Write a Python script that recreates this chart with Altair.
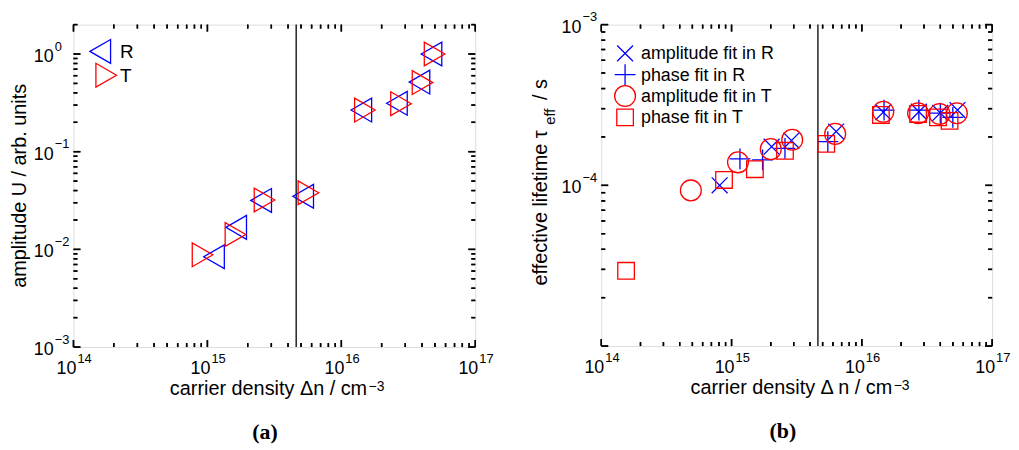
import altair as alt
import pandas as pd

FONT = "Liberation Sans"
SERIF = "Liberation Serif"

# ---------------- panel (a): amplitude vs carrier density ----------------
r_density = [1.12e15, 1.64e15, 2.52e15, 5.19e15, 1.41e16, 2.60e16, 3.83e16, 4.71e16]
r_amplitude = [8.4e-3, 1.68e-2, 3.17e-2, 3.5e-2, 0.267, 0.313, 0.516, 1.0]
t_density = [9.2e14, 1.62e15, 2.67e15, 5.68e15, 1.50e16, 2.79e16, 4.04e16, 4.97e16]
t_amplitude = [8.8e-3, 1.42e-2, 3.2e-2, 3.8e-2, 0.267, 0.310, 0.510, 1.0]
a_series = ["R", "T"]

# ---------------- panel (b): effective lifetime ----------------
amp_r_density = [8.1e14, 2.03e15, 2.88e15, 6.35e15, 1.46e16, 2.74e16, 4.0e16, 5.42e16]
amp_r_tau = [1.0e-4, 1.74e-4, 1.90e-4, 2.16e-4, 2.85e-4, 2.87e-4, 2.82e-4, 2.94e-4]
ph_r_density = [1.16e15, 1.73e15, 2.57e15, 5.48e15, 1.48e16, 2.74e16, 4.0e16, 4.99e16]
ph_r_tau = [1.46e-4, 1.44e-4, 1.70e-4, 1.87e-4, 2.94e-4, 2.94e-4, 2.81e-4, 2.65e-4]
amp_t_density = [4.87e14, 1.12e15, 2.0e15, 2.92e15, 6.24e15, 1.46e16, 2.70e16, 3.95e16, 5.36e16]
amp_t_tau = [9.3e-5, 1.39e-4, 1.68e-4, 1.92e-4, 2.09e-4, 2.87e-4, 2.81e-4, 2.78e-4, 2.81e-4]
ph_t_density = [1.55e14, 8.75e14, 1.51e15, 2.57e15, 5.33e15, 1.40e16, 2.70e16, 3.84e16, 4.71e16]
ph_t_tau = [2.94e-5, 1.08e-4, 1.26e-4, 1.64e-4, 1.81e-4, 2.74e-4, 2.78e-4, 2.65e-4, 2.52e-4]
b_series = ["amplitude fit in R", "phase fit in R", "amplitude fit in T", "phase fit in T"]

boundary_density = [4.6e15]

# tick labels
x_tick_values = [1e14, 1e15, 1e16, 1e17]
x_tick_exponents = ["14", "15", "16", "17"]
a_y_tick_values = [1e-3, 1e-2, 1e-1, 1e0]
a_y_tick_exponents = ["\u22123", "\u22122", "\u22121", "0"]
b_y_tick_values = [1e-4, 1e-3]
b_y_tick_exponents = ["\u22124", "\u22123"]

x_domain = [1e14, 1e17]
a_y_domain = [1e-3, 2]
b_y_domain = [1e-5, 1e-3]

BLUE = "#0000ff"
RED = "#ff0000"
X_PATH = "M-1,-1L1,1M1,-1L-1,1"
PLUS_PATH = "M-1,0L1,0M0,-1L0,1"

WA, HA = 405, 325
WB, HB = 394, 324
MAJOR_LEN, MINOR_LEN = 7, 4
TICK_W = 1.5


def ticks_between(lo_exp, hi_exp, top=None):
    major, minor = [], []
    for e in range(lo_exp, hi_exp):
        major.append(10.0 ** e)
        for k in range(2, 10):
            minor.append(k * 10.0 ** e)
    major.append(10.0 ** hi_exp)
    if top is not None:
        minor = [v for v in minor if v <= top * 1.0001] + [top]
    return major, minor


def tick_marks(xscale, yscale, xticks, yticks, W, H):
    """Inward ticks on all four sides of the box (rules, doubled by tick marks)."""
    layers = []
    for vals, L in ((xticks[0], MAJOR_LEN), (xticks[1], MINOR_LEN)):
        df = pd.DataFrame({"v": vals})
        xe = alt.X("v:Q", scale=xscale, axis=None)
        rule = alt.Chart(df).mark_rule(color="black", strokeWidth=TICK_W)
        layers.append(rule.encode(x=xe, y=alt.value(H), y2=alt.value(H - L)))
        layers.append(rule.encode(x=xe, y=alt.value(0), y2=alt.value(L)))
        tick = alt.Chart(df).mark_tick(color="black", opacity=1, thickness=TICK_W, size=L)
        layers.append(tick.encode(x=xe, y=alt.value(H - L / 2)))
        layers.append(tick.encode(x=xe, y=alt.value(L / 2)))
    for vals, L in ((yticks[0], MAJOR_LEN), (yticks[1], MINOR_LEN)):
        df = pd.DataFrame({"v": vals})
        ye = alt.Y("v:Q", scale=yscale, axis=None)
        rule = alt.Chart(df).mark_rule(color="black", strokeWidth=TICK_W)
        layers.append(rule.encode(y=ye, x=alt.value(0), x2=alt.value(L)))
        layers.append(rule.encode(y=ye, x=alt.value(W), x2=alt.value(W - L)))
        tick = alt.Chart(df).mark_tick(color="black", opacity=1, thickness=TICK_W, size=L)
        layers.append(tick.encode(y=ye, x=alt.value(L / 2)))
        layers.append(tick.encode(y=ye, x=alt.value(W - L / 2)))
    return layers


def label_layers(xscale, yscale, yvals, yexps, W, H, x_title, dn_offset, panel_label, label_dx):
    dfx = pd.DataFrame({"v": x_tick_values, "e": x_tick_exponents})
    dfy = pd.DataFrame({"v": yvals, "e": yexps})
    layers = []
    layers.append(alt.Chart(dfx).mark_text(text="10", align="right", baseline="alphabetic", dx=3,
                                           fontSize=18, font=FONT, color="black").encode(
        x=alt.X("v:Q", scale=xscale, axis=None), y=alt.value(H + 27)))
    layers.append(alt.Chart(dfx).mark_text(align="left", baseline="alphabetic", dx=4,
                                           fontSize=13, font=FONT, color="black").encode(
        x=alt.X("v:Q", scale=xscale, axis=None), y=alt.value(H + 16), text="e:N"))
    layers.append(alt.Chart(dfy).mark_text(text="10", align="right", baseline="alphabetic", dy=8,
                                           fontSize=18, font=FONT, color="black").encode(
        y=alt.Y("v:Q", scale=yscale, axis=None), x=alt.value(-20)))
    layers.append(alt.Chart(dfy).mark_text(align="left", baseline="alphabetic", dy=-3.5,
                                           fontSize=13, font=FONT, color="black").encode(
        y=alt.Y("v:Q", scale=yscale, axis=None), x=alt.value(-19), text="e:N"))
    dft = pd.DataFrame({"t": [x_title], "s": ["\u22123"], "p": [panel_label]})
    layers.append(alt.Chart(dft).mark_text(align="right", baseline="alphabetic", fontSize=20,
                                           font=FONT, color="black").encode(
        text="t:N", x=alt.value(W / 2 + dn_offset), y=alt.value(H + 48)))
    layers.append(alt.Chart(dft).mark_text(align="left", baseline="alphabetic", fontSize=14,
                                           font=FONT, color="black").encode(
        text="s:N", x=alt.value(W / 2 + dn_offset + 1.5), y=alt.value(H + 44)))
    layers.append(alt.Chart(dft).mark_text(align="center", baseline="middle", fontSize=22,
                                           font=SERIF, fontWeight="bold", color="black").encode(
        text="p:N", x=alt.value(W / 2 + label_dx), y=alt.value(H + 86)))
    return layers


def legend_entry(name, color_scale, shape_scale, sx, sy, tx, ty, font_size, size_scale=None):
    df = pd.DataFrame({"series": [name]})
    enc = dict(x=alt.value(sx), y=alt.value(sy),
               color=alt.Color("series:N", scale=color_scale, legend=None),
               shape=alt.Shape("series:N", scale=shape_scale, legend=None))
    if size_scale is not None:
        enc["size"] = alt.Size("series:N", scale=size_scale, legend=None)
        sym = alt.Chart(df).mark_point(filled=False, opacity=1, strokeWidth=1.3).encode(**enc)
    else:
        sym = alt.Chart(df).mark_point(filled=False, opacity=1, strokeWidth=1.3, size=576).encode(**enc)
    txt = alt.Chart(df).mark_text(align="left", baseline="alphabetic", fontSize=font_size, font=FONT,
                                  color="black").encode(text="series:N", x=alt.value(tx), y=alt.value(ty))
    return [sym, txt]


# ---------- panel (a) ----------
df_a = pd.DataFrame({
    "density": r_density + t_density,
    "amplitude": r_amplitude + t_amplitude,
    "series": ["R"] * len(r_density) + ["T"] * len(t_density),
})
xs_a = alt.Scale(type="log", domain=x_domain, nice=False)
ys_a = alt.Scale(type="log", domain=a_y_domain, nice=False)
col_a = alt.Scale(domain=a_series, range=[BLUE, RED])
shp_a = alt.Scale(domain=a_series, range=["triangle-left", "triangle-right"])

rule_a = alt.Chart(pd.DataFrame({"d": boundary_density})).mark_rule(color="black", strokeWidth=1.3).encode(
    x=alt.X("d:Q", scale=xs_a, axis=None))

points_a = alt.Chart(df_a).mark_point(filled=False, opacity=1, strokeWidth=1.3, size=576).encode(
    x=alt.X("density:Q", scale=xs_a, axis=None),
    y=alt.Y("amplitude:Q", scale=ys_a, axis=None),
    color=alt.Color("series:N", scale=col_a, legend=None),
    shape=alt.Shape("series:N", scale=shp_a, legend=None),
)

ticks_a = tick_marks(xs_a, ys_a, ticks_between(14, 17), ticks_between(-3, 0, top=2), WA, HA)
labels_a = label_layers(xs_a, ys_a, a_y_tick_values, a_y_tick_exponents, WA, HA,
                        "carrier density \u0394n / cm", 93.5, "(a)", -9.5)
legend_a = (legend_entry("R", col_a, shp_a, 27, 27, 47, 34, 19)
            + legend_entry("T", col_a, shp_a, 33, 51, 47, 58, 19))

ytitle_a = alt.Chart(pd.DataFrame({"t": ["amplitude U / arb. units"]})).mark_text(
    angle=270, align="center", baseline="alphabetic", fontSize=20, font=FONT, color="black").encode(
    text="t:N", x=alt.value(-48), y=alt.value(HA / 2))

panel_a = alt.layer(rule_a, points_a, *legend_a, *labels_a, ytitle_a, *ticks_a).properties(
    width=WA, height=HA)

# ---------- panel (b) ----------
df_b = pd.DataFrame({
    "density": amp_r_density + ph_r_density + amp_t_density + ph_t_density,
    "tau": amp_r_tau + ph_r_tau + amp_t_tau + ph_t_tau,
    "series": [b_series[0]] * len(amp_r_density) + [b_series[1]] * len(ph_r_density)
              + [b_series[2]] * len(amp_t_density) + [b_series[3]] * len(ph_t_density),
})
xs_b = alt.Scale(type="log", domain=x_domain, nice=False)
ys_b = alt.Scale(type="log", domain=b_y_domain, nice=False)
col_b = alt.Scale(domain=b_series, range=[BLUE, BLUE, RED, RED])
shp_b = alt.Scale(domain=b_series, range=[X_PATH, PLUS_PATH, "circle", "square"])
siz_b = alt.Scale(type="ordinal", domain=b_series, range=[256, 441, 441, 279])

rule_b = alt.Chart(pd.DataFrame({"d": boundary_density})).mark_rule(color="black", strokeWidth=1.3).encode(
    x=alt.X("d:Q", scale=xs_b, axis=None))

points_b = alt.Chart(df_b).mark_point(filled=False, opacity=1, strokeWidth=1.3).encode(
    x=alt.X("density:Q", scale=xs_b, axis=None),
    y=alt.Y("tau:Q", scale=ys_b, axis=None),
    color=alt.Color("series:N", scale=col_b, legend=None),
    shape=alt.Shape("series:N", scale=shp_b, legend=None),
    size=alt.Size("series:N", scale=siz_b, legend=None),
)

ticks_b = tick_marks(xs_b, ys_b, ticks_between(14, 17), ticks_between(-5, -3), WB, HB)
labels_b = label_layers(xs_b, ys_b, b_y_tick_values, b_y_tick_exponents, WB, HB,
                        "carrier density \u0394 n / cm", 96.3, "(b)", -14)
legend_b = []
for name, cy in zip(b_series, [29, 50.5, 72, 93.5]):
    legend_b += legend_entry(name, col_b, shp_b, 24, cy, 40, cy + 6, 18, size_scale=siz_b)

df_tt = pd.DataFrame({"m": ["effective lifetime \u03c4"], "s": ["eff"], "u": ["/ s"]})
ytitle_b = [
    alt.Chart(df_tt).mark_text(angle=270, align="left", baseline="alphabetic", fontSize=20, font=FONT,
                               color="black").encode(text="m:N", x=alt.value(-55), y=alt.value(263)),
    alt.Chart(df_tt).mark_text(angle=270, align="left", baseline="alphabetic", fontSize=15, font=FONT,
                               color="black").encode(text="s:N", x=alt.value(-47), y=alt.value(101)),
    alt.Chart(df_tt).mark_text(angle=270, align="left", baseline="alphabetic", fontSize=20, font=FONT,
                               color="black").encode(text="u:N", x=alt.value(-55), y=alt.value(76)),
]

panel_b = alt.layer(rule_b, points_b, *legend_b, *labels_b, *ytitle_b, *ticks_b).properties(
    width=WB, height=HB)

chart = alt.hconcat(panel_a, panel_b, spacing=127, bounds="flush").resolve_scale(
    color="independent", shape="independent", size="independent"
).properties(
    padding={"left": 1, "top": 1, "right": 0, "bottom": 0}
).configure_view(stroke="black", strokeWidth=1.6).configure(background="white")

chart.save("out.html", embed_options={"renderer": "svg", "actions": False})
